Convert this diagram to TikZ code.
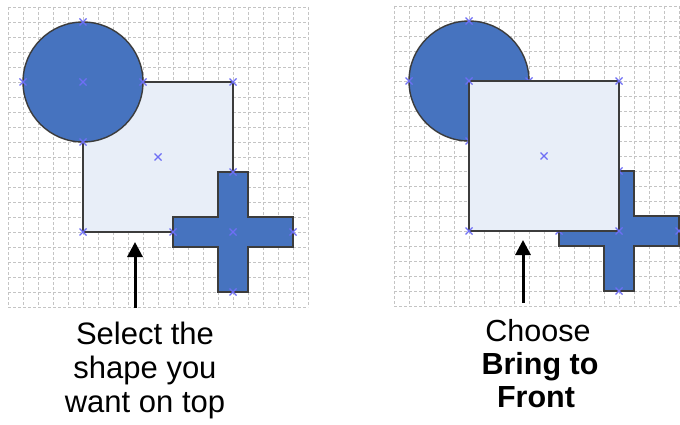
\documentclass[tikz,border=0pt]{standalone}
\usepackage{fontspec}
\setmainfont{Liberation Sans}
\usetikzlibrary{arrows.meta}
\definecolor{shapeblue}{HTML}{4673BF}
\definecolor{paleblue}{HTML}{E8EEF8}
\definecolor{edgegray}{HTML}{3C3C3C}
\definecolor{gridgray}{HTML}{C4C4C4}
\definecolor{markblue}{HTML}{6E6EF5}
\begin{document}
\begin{tikzpicture}[x=1pt,y=-1pt,
  gridline/.style={gridgray, line width=0.8pt, dash pattern=on 3pt off 2pt},
  blueshape/.style={fill=shapeblue, draw=edgegray, line width=1.4pt},
  paleshape/.style={fill=paleblue, draw=edgegray, line width=1.6pt},
  cpmark/.style={markblue, line width=1.1pt},
  pointer/.style={line width=3pt, -{Triangle[width=15pt,length=15pt]}},
  lefttext/.style={anchor=base, font=\fontsize{31}{35}\selectfont},
  righttext/.style={anchor=base, font=\fontsize{30.5}{34}\selectfont},
  cp/.pic={\draw[cpmark] (-3.5,-3.5)--(3.5,3.5) (-3.5,3.5)--(3.5,-3.5);}
]
\useasboundingbox (0,0) rectangle (680,425);
\fill[white] (0,0) rectangle (680,425);
% ---------- left grid ----------
\foreach \i in {0,...,20} {
  \draw[gridline] (8+15*\i,7) -- (8+15*\i,307);
  \draw[gridline] (8,7+15*\i) -- (308,7+15*\i);
}
% ---------- right grid ----------
\foreach \i in {0,...,19} {
  \draw[gridline] (394+15*\i,6) -- (394+15*\i,306);
}
\foreach \i in {0,...,20} {
  \draw[gridline] (394,6+15*\i) -- (679,6+15*\i);
}
% ---------- left panel: square behind, circle and cross in front ----------
\draw[paleshape] (83,82) rectangle (233,232);
\draw[blueshape] (83,82) circle[radius=60pt];
\begin{scope}[shift={(233,232)}]
  \draw[blueshape] (-15,-60) -- (15,-60) -- (15,-15) -- (60,-15) -- (60,15) -- (15,15) -- (15,60) -- (-15,60) -- (-15,15) -- (-60,15) -- (-60,-15) -- (-15,-15) -- cycle;
\end{scope}
\foreach \p in {(83,22),(23,82),(83,82),(143,82),(83,142),(233,82),(83,232),(158,157),(233,172),(173,232),(233,232),(293,232),(233,292)} {
  \pic at \p {cp};
}
% ---------- right panel: circle, cross, then square in front ----------
\draw[blueshape] (469,81) circle[radius=60pt];
\begin{scope}[shift={(619,231)}]
  \draw[blueshape] (-15,-60) -- (15,-60) -- (15,-15) -- (60,-15) -- (60,15) -- (15,15) -- (15,60) -- (-15,60) -- (-15,15) -- (-60,15) -- (-60,-15) -- (-15,-15) -- cycle;
\end{scope}
\foreach \p in {(469,21),(409,81),(529,81),(469,141),(619,171),(559,231),(679,231),(619,291)} {
  \pic at \p {cp};
}
\draw[paleshape] (469,81) rectangle (619,231);
\foreach \p in {(469,81),(619,81),(469,231),(619,231),(544,156)} {
  \pic at \p {cp};
}
% ---------- arrows ----------
\coordinate (la0) at (135,308);
\coordinate (la1) at (135,242);
\draw[pointer] (la0) -- (la1);
\coordinate (ra0) at (523,303);
\coordinate (ra1) at (523,240);
\draw[pointer] (ra0) -- (ra1);
% ---------- captions ----------
\node[lefttext] (l1) at (145,344) {Select the};
\node[lefttext] (l2) at (145,378) {shape you};
\node[lefttext] (l3) at (145,412) {want on top};
\node[righttext] (r1) at (538,341) {Choose};
\node[righttext] (r2) at (540,374) {\bfseries Bring to};
\node[righttext] (r3) at (536,407) {\bfseries Front};
\end{tikzpicture}
\end{document}
